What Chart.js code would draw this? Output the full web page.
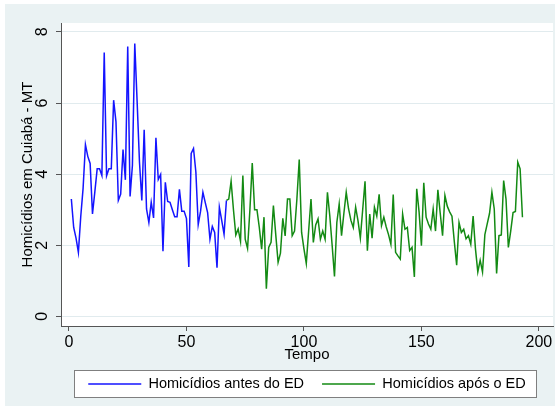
<!DOCTYPE html>
<html>
<head>
<meta charset="utf-8">
<script src="https://cdn.jsdelivr.net/npm/chart.js@4.4.1/dist/chart.umd.min.js"></script>
<style>
  html, body { margin: 0; padding: 0; background: #fff; }
  #wrap { width: 560px; height: 409px; }
</style>
</head>
<body>
<div id="wrap"><canvas id="chart" width="560" height="409"></canvas></div>
<script>
// Homicídios em Cuiabá - MT, série mensal antes e depois do ED
var inicioAntes = 1;
var homicidiosAntes = [
  3.3, 2.5, 2.2, 1.8, 2.8, 3.6, 4.83, 4.5, 4.3, 2.88,
  3.5, 4.15, 4.15, 3.96, 7.42, 3.95, 4.15, 4.15, 6.08, 5.47,
  3.26, 3.44, 4.69, 3.84, 7.59, 3.37, 4.25, 7.67, 6.04, 4.34,
  3.26, 5.25, 3.02, 2.64, 3.21, 2.77, 5.02, 3.85, 3.99, 1.83,
  3.77, 3.23, 3.21, 3.0, 2.8, 2.8, 3.57, 2.96, 2.96, 2.75,
  1.39, 4.58, 4.72, 4.06, 2.58, 2.96, 3.49, 3.2, 2.92, 2.17,
  2.53, 2.36, 1.37, 3.07, 2.7, 2.31, 3.26
];

var inicioApos = 67;
var homicidiosApos = [
  3.26, 3.3, 3.8, 3.0, 2.29, 2.46, 2.11, 3.96, 2.17, 1.91,
  3.0, 4.31, 3.0, 3.0, 2.5, 1.89, 2.79, 0.78, 1.94, 2.08,
  3.12, 2.3, 1.52, 1.78, 2.76, 2.26, 3.3, 3.3, 2.27, 2.4,
  3.3, 4.41, 2.36, 1.9, 1.49, 2.4, 3.3, 2.08, 2.57, 2.74,
  2.17, 2.4, 2.17, 3.49, 2.83, 2.0, 1.12, 2.64, 3.16, 2.27,
  2.9, 3.49, 3.02, 2.7, 2.5, 3.07, 2.69, 2.2, 3.0, 3.8,
  1.85, 2.88, 2.2, 3.07, 2.82, 3.43, 2.55, 2.79, 2.52, 2.3,
  2.03, 3.43, 1.8, 1.7, 1.61, 2.88, 2.45, 2.5, 1.85, 1.94,
  1.11, 3.59, 2.94, 1.99, 3.76, 2.79, 2.6, 2.45, 3.02, 2.4,
  3.56, 2.9, 2.27, 3.4, 3.1, 2.94, 2.82, 2.1, 1.44, 2.64,
  2.36, 2.45, 2.18, 2.27, 2.03, 2.82, 1.9, 1.25, 1.58, 1.25,
  2.3, 2.6, 2.9, 3.49, 3.02, 1.21, 2.27, 2.29, 3.82, 3.3,
  1.94, 2.4, 2.92, 2.95, 4.34, 4.15, 2.79
];

var ticksX = [0, 50, 100, 150, 200];
var ticksY = [0, 2, 4, 6, 8];

function pontos(inicio, valores) {
  return valores.map(function (v, i) { return { x: inicio + i, y: v }; });
}

var fonte = 'Liberation Sans, Arial, sans-serif';

var fundoPlugin = {
  id: 'fundo',
  beforeDraw: function (chart) {
    var ctx = chart.ctx, a = chart.chartArea;
    ctx.save();
    ctx.fillStyle = '#ffffff';
    ctx.fillRect(0, 0, chart.width, chart.height);
    ctx.fillStyle = '#eaf2f3';
    ctx.fillRect(5, 4, 550, 402);
    ctx.fillStyle = '#ffffff';
    ctx.fillRect(a.left, a.top, a.right - a.left, a.bottom - a.top);
    // caixa da legenda
    ctx.fillStyle = '#ffffff';
    ctx.fillRect(74, 370, 462, 27);
    ctx.strokeStyle = '#7f7f7f';
    ctx.lineWidth = 1;
    ctx.strokeRect(74.5, 370.5, 462, 27);
    ctx.restore();
  }
};

var rotuloYPlugin = {
  id: 'rotuloY',
  afterDraw: function (chart) {
    var ctx = chart.ctx, ys = chart.scales.y;
    ctx.save();
    ctx.font = '16px ' + fonte;
    ctx.fillStyle = '#000';
    ctx.textAlign = 'center';
    ctx.textBaseline = 'middle';
    ys.ticks.forEach(function (t) {
      var py = ys.getPixelForValue(t.value);
      ctx.save();
      ctx.translate(43, py);
      ctx.rotate(-Math.PI / 2);
      ctx.fillText(String(t.value), 0, 0);
      ctx.restore();
    });
    ctx.restore();
  }
};

var ctx = document.getElementById('chart').getContext('2d');
var chart = new Chart(ctx, {
  type: 'line',
  data: {
    datasets: [
      {
        label: 'Homicídios antes do ED',
        data: pontos(inicioAntes, homicidiosAntes),
        borderColor: '#1414ff',
        backgroundColor: '#1414ff',
        borderWidth: 1.5,
        pointRadius: 0,
        fill: false,
        tension: 0
      },
      {
        label: 'Homicídios após o ED',
        data: pontos(inicioApos, homicidiosApos),
        borderColor: '#138a13',
        backgroundColor: '#138a13',
        borderWidth: 1.5,
        pointRadius: 0,
        fill: false,
        tension: 0
      }
    ]
  },
  options: {
    responsive: false,
    animation: false,
    layout: { padding: { left: 0, right: 7, top: 23, bottom: 7.75 } },
    plugins: {
      tooltip: { enabled: false },
      legend: {
        position: 'bottom',
        fullSize: false,
        labels: {
          color: '#000',
          font: { family: fonte, size: 14.5 },
          boxWidth: 53,
          boxHeight: 1.5,
          padding: 18,
          generateLabels: function (chart) {
            return Chart.defaults.plugins.legend.labels.generateLabels(chart).map(function (l) {
              l.lineWidth = 0;
              return l;
            });
          }
        }
      }
    },
    scales: {
      x: {
        type: 'linear',
        min: -3.4,
        max: 206,
        afterFit: function (scale) { scale.height = 32.75; },
        afterBuildTicks: function (scale) {
          scale.ticks = ticksX.map(function (v) { return { value: v }; });
        },
        grid: { drawOnChartArea: false, drawTicks: true, tickLength: 5, tickColor: '#555' },
        border: { display: true, color: '#555', width: 1 },
        ticks: { color: '#000', font: { family: fonte, size: 16 }, padding: 2, maxRotation: 0, autoSkip: false },
        title: {
          display: true,
          text: 'Tempo',
          color: '#000',
          font: { family: fonte, size: 15, lineHeight: 1 },
          padding: { top: 0, bottom: -4 }
        }
      },
      y: {
        min: -0.27,
        max: 8.25,
        afterFit: function (scale) { scale.width = 61; },
        afterBuildTicks: function (scale) {
          scale.ticks = ticksY.map(function (v) { return { value: v }; });
        },
        grid: { color: '#e1ebee', lineWidth: 1, drawTicks: true, tickLength: 5, tickColor: '#555' },
        border: { display: true, color: '#555', width: 1 },
        ticks: { display: false },
        title: {
          display: true,
          text: 'Homicídios em Cuiabá - MT',
          color: '#000',
          font: { family: fonte, size: 15, lineHeight: 1.2 },
          padding: { top: 19, bottom: 0 }
        }
      }
    }
  },
  plugins: [fundoPlugin, rotuloYPlugin]
});
</script>
</body>
</html>
